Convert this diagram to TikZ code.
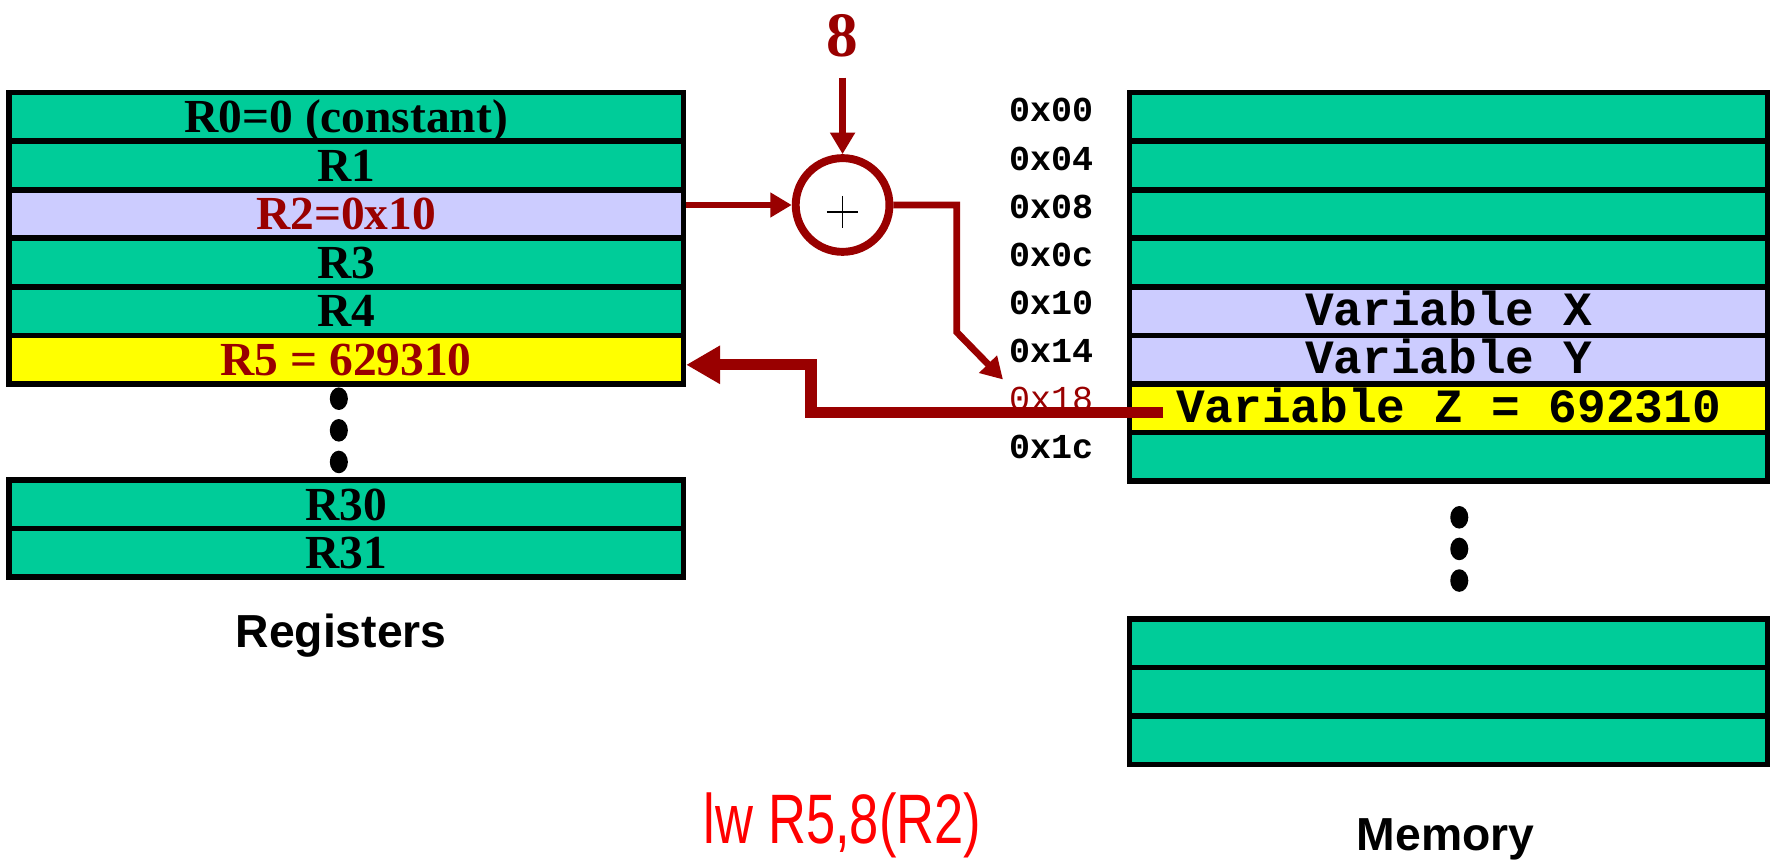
\documentclass[tikz,border=0pt]{standalone}
\usepackage{fontspec}
\setmainfont{Liberation Serif}
\newfontfamily\monofont{Liberation Mono}
\newfontfamily\sansfont{Liberation Sans}
\newfontfamily\narrowfont[FakeStretch=0.75]{Liberation Sans}
\usetikzlibrary{arrows.meta}
\definecolor{cellgreen}{HTML}{00CC99}
\definecolor{cellblue}{HTML}{CCCCFF}
\definecolor{cellyellow}{HTML}{FFFF00}
\definecolor{dkred}{HTML}{990000}
\definecolor{brightred}{HTML}{FF0000}
\tikzset{
  cell/.style={draw=black, line width=5pt, rectangle, inner sep=0pt, minimum height=43pt, fill=cellgreen},
  regcell/.style={cell, minimum width=597pt, font=\fontsize{42}{42}\selectfont\bfseries, text height=27.8pt, text depth=0pt},
  memcell/.style={cell, minimum width=565pt, font=\fontsize{42.3}{42}\selectfont\monofont\bfseries, text height=25pt, text depth=0pt},
  addr/.style={anchor=base east, inner sep=0pt, font=\fontsize{31}{31}\selectfont\monofont\bfseries},
  thinarrow/.style={draw=dkred, line width=6pt, -{Triangle[length=19pt,width=21pt]}},
  thickarrow/.style={draw=dkred, line width=10pt, -{Triangle[length=30pt,width=32pt]}},
  title/.style={anchor=base, inner sep=0pt, font=\fontsize{41}{41}\selectfont\sansfont\bfseries},
}
\begin{document}
\begin{tikzpicture}[x=1pt,y=-1pt]
\useasboundingbox (0,0) rectangle (1568,762);
% registers
\node[regcell] (r0) at (306.5,103.5) {R0=0 (constant)};
\node[regcell] (r1) at (306.5,146.5) {R1};
\node[regcell, fill=cellblue, text=dkred] (r2) at (306.5,189.5) {R2=0x10};
\node[regcell] (r3) at (306.5,232.5) {R3};
\node[regcell] (r4) at (306.5,275.5) {R4};
\node[regcell, fill=cellyellow, text=dkred] (r5) at (306.5,318.5) {R5 = 629310};
\fill (300,353) ellipse (8pt and 10pt);
\fill (300,381) ellipse (8pt and 10pt);
\fill (300,409) ellipse (8pt and 10pt);
\node[regcell] (r30) at (306.5,446.5) {R30};
\node[regcell] (r31) at (306.5,489.5) {R31};
\node[title] (reglabel) at (302,573) {Registers};
% memory
\node[memcell] (m0) at (1282.5,103.5) {};
\node[memcell] (m1) at (1282.5,146.5) {};
\node[memcell] (m2) at (1282.5,189.5) {};
\node[memcell] (m3) at (1282.5,232.5) {};
\node[memcell, fill=cellblue] (m4) at (1282.5,275.5) {Variable X};
\node[memcell, fill=cellblue] (m5) at (1282.5,318.5) {Variable Y};
\node[memcell, fill=cellyellow] (m6) at (1282.5,361.5) {Variable Z = 692310};
\node[memcell] (m7) at (1282.5,404.5) {};
\fill (1292,458) ellipse (8pt and 10pt);
\fill (1292,486) ellipse (8pt and 10pt);
\fill (1292,514) ellipse (8pt and 10pt);
\node[memcell] (n1) at (1282.5,569.5) {};
\node[memcell] (n2) at (1282.5,612.5) {};
\node[memcell] (n3) at (1282.5,655.5) {};
\node[title] (memlabel) at (1280,753) {Memory};
% addresses
\node[addr] (a00) at (968,108) {0x00};
\node[addr] (a04) at (968,150.6) {0x04};
\node[addr] (a08) at (968,193.2) {0x08};
\node[addr] (a0c) at (968,235.8) {0x0c};
\node[addr] (a10) at (968,278.4) {0x10};
\node[addr] (a14) at (968,321) {0x14};
\node[addr, font=\fontsize{31}{31}\selectfont\monofont, text=dkred] (a18) at (968,363.6) {0x18};
\node[addr] (a1c) at (968,406.2) {0x1c};
% adder
\node[circle, draw=dkred, line width=7pt, fill=white, minimum size=83pt, inner sep=0pt] (add) at (746,181.5) {};
\draw[line width=1.6pt] ([shift={(-14,6)}]add.center) -- ([shift={(14,6)}]add.center);
\draw[line width=1.6pt] ([shift={(0,-8)}]add.center) -- ([shift={(0,20)}]add.center);
\node[font=\fontsize{56}{56}\selectfont\bfseries, text=dkred, anchor=base, inner sep=0pt] (eight) at (746,50) {8};
\draw[thinarrow, shorten <=18pt] (eight) -- (add);
\draw[thinarrow] (r2.east |- add.west) -- (add.west);
\coordinate (bendA) at (847,294);
\coordinate (tipA) at (888,336);
\draw[thinarrow] (add.east) -| (bendA) -- (tipA);
% load result
\coordinate (zstart) at (1030,365);
\coordinate (bendB) at (718,323);
\draw[thickarrow] (zstart) -| (bendB) -- (r5.east |- bendB);
\node[anchor=base, inner sep=0pt, font=\fontsize{62}{62}\selectfont\narrowfont, text=brightred] (instr) at (746,747) {lw R5,8(R2)};
\end{tikzpicture}
\end{document}
